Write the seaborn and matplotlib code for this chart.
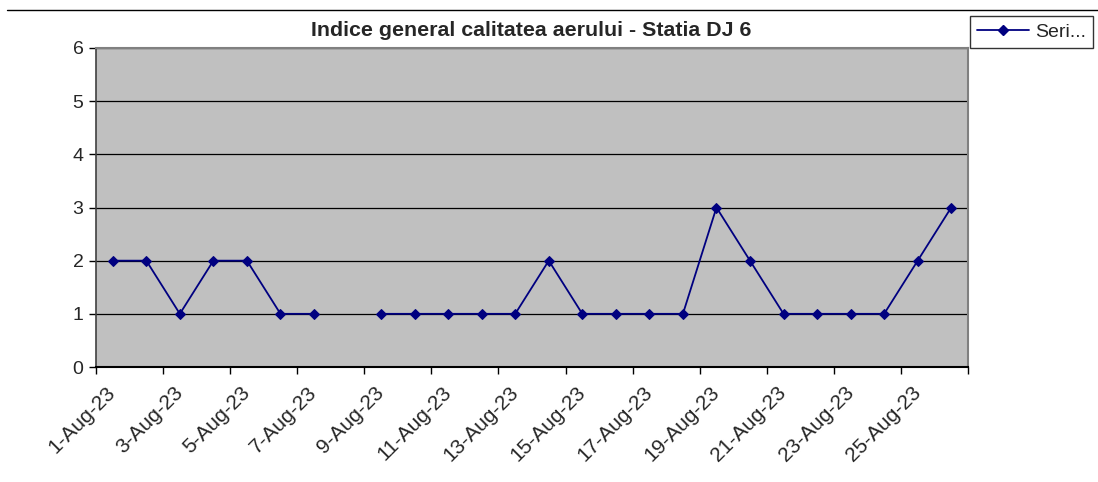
import numpy as np
import pandas as pd
import matplotlib
matplotlib.use("Agg")
import matplotlib.pyplot as plt
import seaborn as sns
from matplotlib.lines import Line2D

# ---- data ----
days = [f"{d}-Aug-23" for d in range(1, 27)]
values = [2, 2, 1, 2, 2, 1, 1, np.nan, 1, 1, 1, 1, 1, 2, 1, 1, 1, 1, 3, 2, 1, 1, 1, 1, 2, 3]
title = "Indice general calitatea aerului - Statia DJ 6"
series_name = "Seri..."
yticks = [0, 1, 2, 3, 4, 5, 6]

sns.set_theme(style="white")
plt.rcParams["font.family"] = ["Liberation Sans", "DejaVu Sans"]

df = pd.DataFrame({"day": days, "value": values})
df["pos"] = np.arange(len(df))
# segment id so the line breaks at the missing value
df["seg"] = df["value"].isna().cumsum()
df = df.dropna()

fig = plt.figure(figsize=(10.98, 4.82), dpi=100)
ax = fig.add_axes([96 / 1098, 1 - 367 / 482, (968 - 96) / 1098, (367 - 48) / 482])
ax.set_facecolor("#C0C0C0")

sns.lineplot(data=df, x="pos", y="value", units="seg", estimator=None,
             color="#000080", linewidth=1.3, marker="D", markersize=5,
             markeredgecolor="#000080", ax=ax, legend=False)

ax.set_xlim(-0.5, len(days) - 0.5)
ax.set_ylim(0, 6)
ax.set_yticks(yticks)
ax.yaxis.grid(True, color="black", linewidth=0.9)
ax.set_axisbelow(True)

# category labels at centres, tick marks at boundaries
centres = np.arange(0, len(days), 2)
ax.set_xticks(centres)
ax.set_xticklabels([days[i] for i in centres], rotation=45, ha="right", va="center",
                   rotation_mode="anchor", fontsize=15)
ax.tick_params(axis="x", which="major", length=0, pad=16)
ax.set_xticks(np.arange(-0.5, len(days), 2), minor=True)
ax.tick_params(axis="x", which="minor", length=5, width=1, color="black", bottom=True)
ax.tick_params(axis="y", length=5, width=1, color="black", left=True, labelsize=14, pad=4)

ax.set_xlabel("")
ax.set_ylabel("")

for s in ["top", "right"]:
    ax.spines[s].set_color("#808080")
    ax.spines[s].set_linewidth(1.5)
ax.spines["left"].set_color("#404040")
ax.spines["left"].set_linewidth(1.2)
ax.spines["bottom"].set_color("black")
ax.spines["bottom"].set_linewidth(1.5)

fig.text((312 + 751) / 2 / 1098, 1 - 31 / 482, title, ha="center", va="center",
         fontsize=15.4, fontweight="bold")

# top rule line
fig.add_artist(Line2D([7 / 1098, 1.0], [1 - 10 / 482, 1 - 10 / 482],
                      transform=fig.transFigure, color="black", linewidth=1))

handle = Line2D([], [], color="#000080", marker="D", markersize=5, linewidth=1.3)
leg = fig.legend([handle], [series_name], loc="upper left",
                 bbox_to_anchor=(970 / 1098, 1 - 16 / 482), frameon=True,
                 fancybox=False, edgecolor="black", fontsize=14,
                 borderpad=0.38, handlelength=2.65, handletextpad=0.3,
                 borderaxespad=0)
leg.get_frame().set_linewidth(1)

fig.savefig("out.png", dpi=100, facecolor="white")
